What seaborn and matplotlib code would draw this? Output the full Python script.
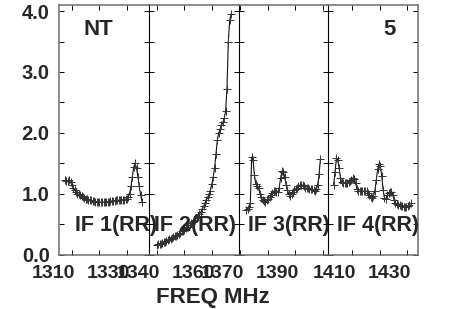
import numpy as np
import pandas as pd
import matplotlib
matplotlib.use("Agg")
import matplotlib.pyplot as plt
import matplotlib.transforms as mtransforms
from matplotlib.ticker import MultipleLocator
import seaborn as sns

# --- data ---
if_names = ["IF 1(RR)", "IF 2(RR)", "IF 3(RR)", "IF 4(RR)"]
chan_start = [1307.6, 1340.1, 1372.1, 1403.2]   # MHz, first channel of each IF
chan_width = 0.5                                # MHz
panel_lo = [1305.3, 1337.1, 1369.3, 1401.3]     # left edge of each panel, MHz
panel_span = 32.7
tick_labels = [[1310, 1330], [1340, 1360], [1370, 1390], [1410, 1430]]

amp_if1 = [1.22, 1.21, 1.20, 1.22, 1.19, 1.15, 1.10, 1.06, 1.02, 1.00,
           0.99, 0.97, 0.96, 0.95, 0.93, 0.92, 0.91, 0.90, 0.89, 0.89,
           0.88, 0.88, 0.87, 0.87, 0.86, 0.86, 0.86, 0.86, 0.86, 0.87,
           0.87, 0.87, 0.87, 0.88, 0.88, 0.88, 0.88, 0.89, 0.89, 0.89,
           0.89, 0.90, 0.90, 0.90, 0.91, 0.92, 0.94, 1.00, 1.12, 1.28,
           1.44, 1.50, 1.42, 1.28, 1.12, 0.98, 0.87]
amp_if2 = [0.16, 0.17, 0.17, 0.18, 0.19, 0.20, 0.21, 0.22, 0.24, 0.25,
           0.26, 0.27, 0.28, 0.30, 0.31, 0.32, 0.34, 0.36, 0.38, 0.39,
           0.41, 0.43, 0.45, 0.46, 0.48, 0.51, 0.53, 0.55, 0.57, 0.60,
           0.63, 0.66, 0.70, 0.74, 0.79, 0.84, 0.89, 0.94, 0.99, 1.05,
           1.16, 1.27, 1.42, 1.65, 1.88, 2.00, 2.06, 2.12, 2.17, 2.24,
           2.35, 2.72, 3.50, 3.85, 3.95]
amp_if3 = [0.73, 0.75, 0.78, 0.85, 1.60, 1.55, 1.30, 1.16, 1.12, 1.09,
           1.00, 0.94, 0.90, 0.88, 0.87, 0.89, 0.91, 0.94, 0.97, 1.01,
           1.04, 1.04, 1.02, 1.03, 1.10, 1.25, 1.37, 1.36, 1.28, 1.15,
           1.06, 0.99, 0.96, 1.00, 1.03, 1.06, 1.08, 1.10, 1.12, 1.14,
           1.15, 1.14, 1.12, 1.09, 1.09, 1.09, 1.08, 1.07, 1.07, 1.06,
           1.05, 1.07, 1.14, 1.32, 1.57]
amp_if4 = [1.15, 1.35, 1.58, 1.55, 1.42, 1.25, 1.19, 1.17, 1.17, 1.17,
           1.18, 1.19, 1.20, 1.23, 1.26, 1.24, 1.17, 1.07, 1.05, 1.04,
           1.04, 1.04, 1.04, 1.04, 1.04, 1.01, 0.97, 0.95, 0.93, 0.96,
           1.05, 1.22, 1.40, 1.49, 1.45, 1.29, 1.06, 0.93, 0.91, 0.97,
           1.01, 1.03, 1.03, 0.98, 0.90, 0.85, 0.83, 0.82, 0.81, 0.80,
           0.79, 0.78, 0.78, 0.78, 0.79, 0.81, 0.84]
amps = [amp_if1, amp_if2, amp_if3, amp_if4]

rows = []
for name, f0, a in zip(if_names, chan_start, amps):
    for i, v in enumerate(a):
        rows.append({"IF": name, "freq": f0 + i * chan_width, "amp": v})
df = pd.DataFrame(rows)

sns.set_style("ticks")
plt.rcParams["font.family"] = ["Liberation Sans", "DejaVu Sans"]
plt.rcParams["font.weight"] = "bold"

W, H = 452, 309
fig = plt.figure(figsize=(W / 100, H / 100), dpi=100)
gs = fig.add_gridspec(1, 4, left=58.7 / W, right=418.3 / W,
                      top=1 - 5 / H, bottom=1 - 254.5 / H, wspace=0)

label_x = [0.18, 0.056, 0.11, 0.10]
shift = mtransforms.ScaledTranslation(-18 / 100, 0, fig.dpi_scale_trans)
frame = "#6e6e6e"

for k in range(4):
    ax = fig.add_subplot(gs[0, k])
    ax.set_facecolor("none")
    sub = df[df["IF"] == if_names[k]]
    sns.lineplot(data=sub, x="freq", y="amp", ax=ax, color="#111111",
                 linewidth=0.8, marker="+", markersize=5.5,
                 markeredgewidth=0.7, markeredgecolor="#333333")
    ax.set_xlim(panel_lo[k], panel_lo[k] + panel_span)
    ax.set_ylim(0, 4.1)
    ax.set_xlabel("")
    ax.set_ylabel("")

    ticks = [t for t in range(1300, 1450, 10) if panel_lo[k] < t <= panel_lo[k] + panel_span + 0.1]
    ax.set_xticks(ticks)
    ax.set_xticklabels([str(t) if t in tick_labels[k] else "" for t in ticks])
    ax.yaxis.set_major_locator(MultipleLocator(1.0))
    ax.yaxis.set_minor_locator(MultipleLocator(0.5))
    ax.tick_params(axis="both", which="both", direction="in", length=3.6,
                   width=0.7, color="black", top=True, right=True)
    ax.tick_params(axis="x", labelsize=14, pad=7.5)
    ax.tick_params(axis="y", labelsize=14.5, pad=6.5)
    if k == 0:
        ax.set_yticklabels(["%.1f" % v for v in ax.get_yticks()])
    else:
        ax.tick_params(axis="y", labelleft=False)
    for lab in ax.get_xticklabels():
        lab.set_transform(lab.get_transform() + shift)
        lab.set_fontweight("bold")

    for side in ["top", "bottom"]:
        ax.spines[side].set_color(frame)
        ax.spines[side].set_linewidth(1.1)
    if k == 0:
        ax.spines["left"].set_color(frame)
        ax.spines["left"].set_linewidth(1.1)
    else:
        ax.spines["left"].set_color("black")
        ax.spines["left"].set_linewidth(0.8)
    if k == 3:
        ax.spines["right"].set_color(frame)
        ax.spines["right"].set_linewidth(1.1)
    else:
        ax.spines["right"].set_visible(False)

    ax.text(label_x[k], 0.118, if_names[k], transform=ax.transAxes,
            ha="left", va="center", fontsize=15.5, fontweight="bold")
    if k == 0:
        ax.text(0.437, 0.90, "NT", transform=ax.transAxes, ha="center",
                va="center", fontsize=16, fontweight="bold")
    if k == 3:
        ax.text(0.68, 0.90, "5", transform=ax.transAxes, ha="center",
                va="center", fontsize=16, fontweight="bold")

fig.text(212.5 / W, 1 - 297 / H, "FREQ MHz", ha="center", va="center",
         fontsize=16, fontweight="bold")

fig.savefig("out.png", dpi=100)
